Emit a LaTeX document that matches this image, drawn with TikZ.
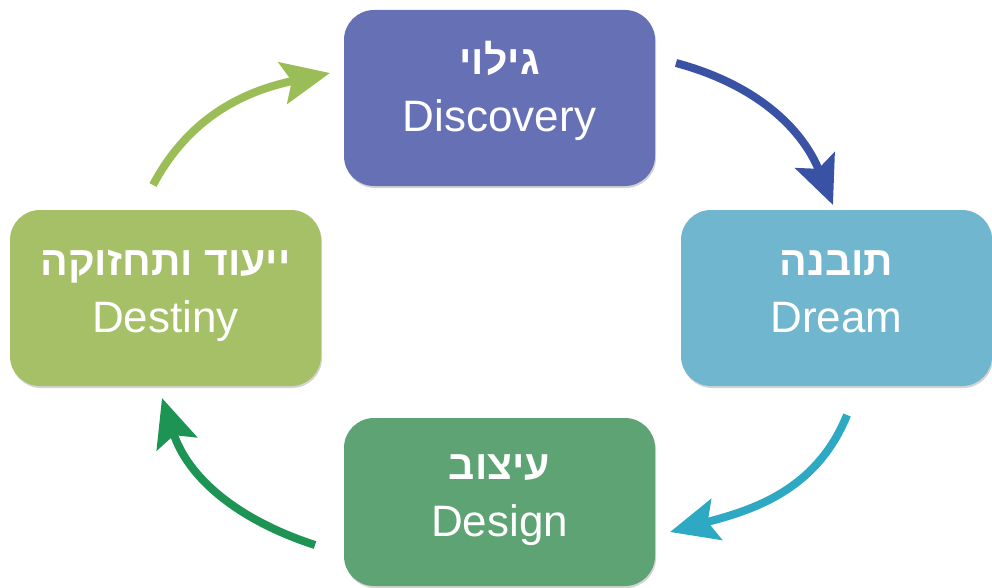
\documentclass[tikz,border=0pt]{standalone}
\usepackage{fontspec}
\setmainfont{Liberation Sans}
\newfontfamily\hebfont[Script=Hebrew]{Liberation Sans}
\TeXXeTstate=1
\usetikzlibrary{arrows.meta,shadows}

\definecolor{discblue}{HTML}{6670B5}
\definecolor{dreamcyan}{HTML}{70B6CE}
\definecolor{designgreen}{HTML}{5DA373}
\definecolor{destinyolive}{HTML}{A5C066}
\definecolor{arrblue}{HTML}{3A52A3}
\definecolor{arrcyan}{HTML}{2EA9C4}
\definecolor{arrgreen}{HTML}{1E9454}
\definecolor{arrolive}{HTML}{9BBD57}

\tikzset{
  phase/.style={rounded corners=30pt, minimum width=311pt, minimum height=176pt,
    fill=#1, drop shadow={shadow xshift=1pt, shadow yshift=-2pt, opacity=.35}},
  hebtitle/.style={anchor=base, text=white, font=\hebfont\bfseries\fontsize{41}{48}\selectfont},
  engtitle/.style={anchor=base, text=white, font=\fontsize{44}{52}\selectfont},
  cyclearrow/.style={draw=#1, line width=8pt, -{Stealth[length=48pt,width=42pt,inset=9pt]}}
}

\begin{document}
\begin{tikzpicture}[x=1pt, y=-1pt]
    \useasboundingbox (0,0) rectangle (992,588);

    % the four phases
    \node[phase=discblue] (disc) at (499.5,98) {};
    \node[phase=dreamcyan] (dream) at (836.5,298) {};
    \node[phase=designgreen, minimum height=168pt] (design) at (499.5,502) {};
    \node[phase=destinyolive] (destiny) at (165.5,298) {};

    \node[hebtitle] (disc-he) at ([yshift=23pt]disc.center) {\beginR גילוי\endR};
    \node[engtitle] (disc-en) at ([yshift=-34pt]disc.center) {Discovery};
    \node[hebtitle] (dream-he) at ([yshift=23pt]dream.center) {\beginR תובנה\endR};
    \node[engtitle] (dream-en) at ([yshift=-34pt]dream.center) {Dream};
    \node[hebtitle] (design-he) at ([yshift=23pt]design.center) {\beginR עיצוב\endR};
    \node[engtitle] (design-en) at ([yshift=-34pt]design.center) {Design};
    \node[hebtitle] (destiny-he) at ([yshift=23pt]destiny.center) {\beginR ייעוד ותחזוקה\endR};
    \node[engtitle] (destiny-en) at ([yshift=-34pt]destiny.center) {Destiny};

    % arrows round the cycle
    \coordinate (disc-out) at (676,63);
    \coordinate (dream-in) at (833,205);
    \coordinate (dream-out) at (847,415);
    \coordinate (design-in) at (670,532);
    \coordinate (design-out) at (315,545);
    \coordinate (destiny-in) at (162,398);
    \coordinate (destiny-out) at (153,185);
    \coordinate (disc-in) at (330,73);

    \draw[cyclearrow=arrblue] (disc-out) to[out=-15, in=112] (dream-in);
    \draw[cyclearrow=arrcyan] (dream-out) to[out=-112, in=15] (design-in);
    \draw[cyclearrow=arrgreen] (design-out) to[out=162, in=-72] (destiny-in);
    \draw[cyclearrow=arrolive] (destiny-out) to[out=62, in=-168] (disc-in);
\end{tikzpicture}
\end{document}
